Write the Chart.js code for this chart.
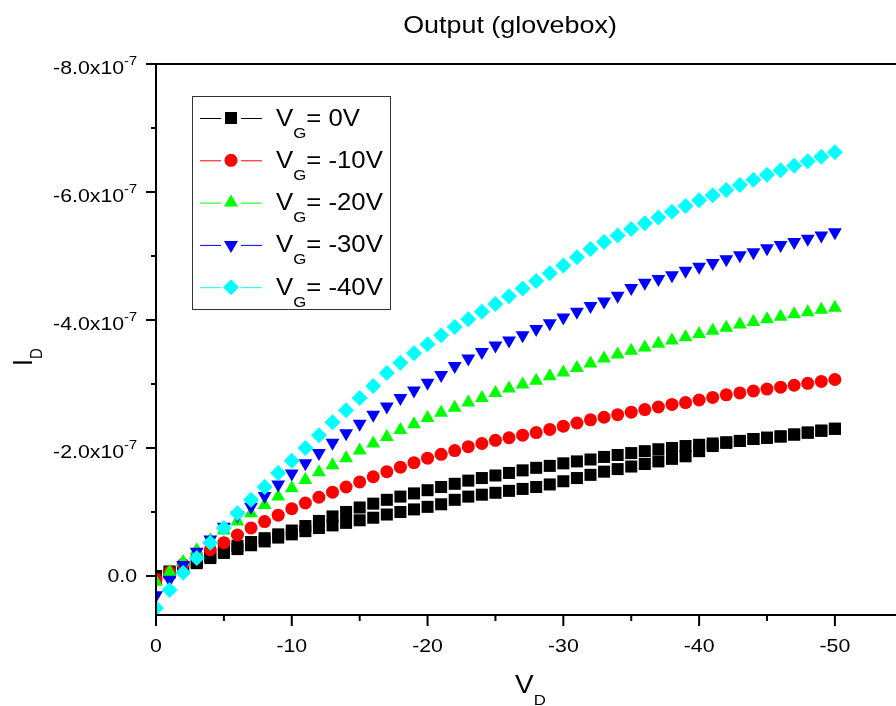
<!DOCTYPE html>
<html>
<head>
<meta charset="UTF-8">
<title>Output (glovebox)</title>
<script src="https://cdn.jsdelivr.net/npm/chart.js"></script>
<style>
  body { margin: 0; background: #fff; }
  #wrap { width: 896px; height: 706px; }
</style>
</head>
<body>
<div id="wrap"><canvas id="chart" width="896" height="706"></canvas></div>
<script>
// drain voltage, V
const vd = [0, -1, -2, -3, -4, -5, -6, -7, -8, -9, -10, -11, -12, -13, -14, -15, -16, -17, -18, -19, -20,
  -21, -22, -23, -24, -25, -26, -27, -28, -29, -30, -31, -32, -33, -34, -35, -36, -37, -38, -39, -40,
  -41, -42, -43, -44, -45, -46, -47, -48, -49, -50];

// -I_D in units of 1e-7 A
const idVg0Fwd = [0.00, 0.07, 0.14, 0.22, 0.31, 0.40, 0.47, 0.53, 0.59, 0.65, 0.71, 0.78, 0.86, 0.93, 1.00, 1.07, 1.13, 1.19, 1.24, 1.29, 1.34,
  1.39, 1.44, 1.49, 1.53, 1.57, 1.61, 1.65, 1.69, 1.72, 1.76, 1.79, 1.82, 1.86, 1.89, 1.92, 1.95, 1.98, 2.00, 2.03, 2.05,
  2.07, 2.09, 2.11, 2.14, 2.16, 2.18, 2.21, 2.24, 2.27, 2.30];
const idVg0Rev = [-0.03, 0.05, 0.12, 0.20, 0.28, 0.36, 0.42, 0.48, 0.54, 0.60, 0.65, 0.70, 0.75, 0.79, 0.83, 0.87, 0.91, 0.96, 1.00, 1.04, 1.08,
  1.12, 1.19, 1.24, 1.27, 1.30, 1.33, 1.36, 1.39, 1.43, 1.48, 1.53, 1.58, 1.63, 1.67, 1.71, 1.75, 1.79, 1.83, 1.87, 1.95,
  2.03, 2.08, 2.11, 2.14, 2.16, 2.18, 2.21, 2.24, 2.27, 2.30];
const idVg10 = [-0.05, 0.06, 0.18, 0.30, 0.41, 0.52, 0.64, 0.75, 0.85, 0.95, 1.05, 1.14, 1.23, 1.31, 1.39, 1.47, 1.55, 1.63, 1.70, 1.77, 1.84,
  1.90, 1.96, 2.02, 2.07, 2.12, 2.16, 2.20, 2.24, 2.29, 2.34, 2.39, 2.44, 2.48, 2.52, 2.56, 2.60, 2.64, 2.68, 2.71, 2.75,
  2.79, 2.83, 2.86, 2.89, 2.92, 2.95, 2.98, 3.01, 3.04, 3.07];
const idVg20 = [-0.09, 0.06, 0.22, 0.40, 0.56, 0.71, 0.85, 0.98, 1.11, 1.24, 1.37, 1.50, 1.62, 1.73, 1.84, 1.96, 2.07, 2.17, 2.28, 2.37, 2.47,
  2.55, 2.63, 2.71, 2.78, 2.86, 2.93, 2.99, 3.05, 3.12, 3.18, 3.25, 3.32, 3.40, 3.46, 3.52, 3.57, 3.63, 3.68, 3.73, 3.78,
  3.83, 3.88, 3.93, 3.97, 4.01, 4.05, 4.09, 4.12, 4.16, 4.19];
const idVg30 = [-0.30, -0.06, 0.17, 0.38, 0.57, 0.77, 0.95, 1.08, 1.25, 1.43, 1.60, 1.76, 1.92, 2.08, 2.23, 2.38, 2.52, 2.65, 2.78, 2.90, 3.02,
  3.14, 3.28, 3.40, 3.50, 3.60, 3.68, 3.76, 3.86, 3.95, 4.04, 4.13, 4.22, 4.29, 4.38, 4.50, 4.58, 4.64, 4.70, 4.77, 4.83,
  4.89, 4.95, 5.01, 5.06, 5.12, 5.17, 5.22, 5.27, 5.32, 5.37];
const idVg40 = [-0.50, -0.22, 0.05, 0.28, 0.52, 0.75, 0.98, 1.19, 1.39, 1.61, 1.80, 2.00, 2.20, 2.40, 2.59, 2.78, 2.97, 3.17, 3.33, 3.48, 3.62,
  3.76, 3.89, 4.01, 4.13, 4.25, 4.37, 4.49, 4.61, 4.73, 4.85, 4.98, 5.11, 5.22, 5.32, 5.42, 5.51, 5.60, 5.69, 5.78, 5.87,
  5.95, 6.03, 6.11, 6.19, 6.27, 6.34, 6.41, 6.48, 6.55, 6.62];

const seriesNames = ['0V', '-10V', '-20V', '-30V', '-40V'];
const seriesColors = ['#000000', '#ff0000', '#00ff00', '#0000ff', '#00ffff'];
const seriesShapes = ['rect', 'circle', 'triangle', 'triangleDown', 'rectRot'];

const xMajor = [0, -10, -20, -30, -40, -50];
const xMinor = [-5, -15, -25, -35, -45];
const yMajor = [-8, -6, -4, -2, 0];          // x1e-7
const yMinor = [-7, -5, -3, -1];
const yLabels = ['-8.0x10', '-6.0x10', '-4.0x10', '-2.0x10', '0.0'];

const UNIT = 1e-7;
const SX = 1.12;   // text in the reference is a little wide
const FONT = '"Liberation Sans", Arial, sans-serif';

function pts(arr) {
  return vd.map((v, i) => ({ x: v, y: -arr[i] * UNIT }));
}

function makeSet(i, data) {
  const shape = seriesShapes[i];
  const sizes = { rect: 8.5, circle: 6.5, triangle: 8, triangleDown: 8, rectRot: 8 };
  return {
    label: 'VG= ' + seriesNames[i],
    data: data,
    showLine: false,
    pointStyle: shape === 'triangleDown' ? 'triangle' : shape,
    rotation: shape === 'triangleDown' ? 180 : 0,
    pointRadius: sizes[shape],
    pointHoverRadius: sizes[shape],
    backgroundColor: seriesColors[i],
    borderColor: seriesColors[i],
    borderWidth: 0,
    clip: 0,
    order: 10 - i
  };
}

function txt(ctx, s, x, y, size, align) {
  ctx.save();
  ctx.font = size + 'px ' + FONT;
  ctx.translate(x, y);
  ctx.scale(SX, 1);
  ctx.textAlign = align || 'left';
  ctx.textBaseline = 'alphabetic';
  ctx.fillText(s, 0, 0);
  ctx.restore();
}
function txtW(ctx, s, size) {
  ctx.save();
  ctx.font = size + 'px ' + FONT;
  const w = ctx.measureText(s).width * SX;
  ctx.restore();
  return w;
}

function marker(ctx, shape, x, y, color) {
  ctx.save();
  ctx.fillStyle = color;
  ctx.beginPath();
  if (shape === 'rect') {
    ctx.rect(x - 6, y - 6, 12, 12);
  } else if (shape === 'circle') {
    ctx.arc(x, y, 6.5, 0, Math.PI * 2);
  } else if (shape === 'triangle') {
    ctx.moveTo(x, y - 8); ctx.lineTo(x + 7, y + 4); ctx.lineTo(x - 7, y + 4);
  } else if (shape === 'triangleDown') {
    ctx.moveTo(x, y + 8); ctx.lineTo(x + 7, y - 4); ctx.lineTo(x - 7, y - 4);
  } else {
    ctx.moveTo(x, y - 8); ctx.lineTo(x + 8, y); ctx.lineTo(x, y + 8); ctx.lineTo(x - 8, y);
  }
  ctx.closePath();
  ctx.fill();
  ctx.restore();
}

const decor = {
  id: 'decor',
  afterDraw(chart) {
    const ctx = chart.ctx;
    const a = chart.chartArea;
    const xs = chart.scales.x, ys = chart.scales.y;
    ctx.save();
    ctx.fillStyle = '#000';
    ctx.strokeStyle = '#000';
    ctx.lineWidth = 2;

    // frame: top, bottom, left
    ctx.beginPath();
    ctx.moveTo(a.left, a.top); ctx.lineTo(a.right, a.top);
    ctx.moveTo(a.left, a.bottom); ctx.lineTo(a.right, a.bottom);
    ctx.moveTo(a.left, a.top - 1); ctx.lineTo(a.left, a.bottom + 1);
    ctx.stroke();

    // y ticks
    ctx.beginPath();
    yMajor.forEach(v => { const p = ys.getPixelForValue(v * UNIT); ctx.moveTo(a.left - 10, p); ctx.lineTo(a.left, p); });
    yMinor.forEach(v => { const p = ys.getPixelForValue(v * UNIT); ctx.moveTo(a.left - 5, p); ctx.lineTo(a.left, p); });
    // x ticks
    xMajor.forEach(v => { const p = xs.getPixelForValue(v); ctx.moveTo(p, a.bottom); ctx.lineTo(p, a.bottom + 11); });
    xMinor.forEach(v => { const p = xs.getPixelForValue(v); ctx.moveTo(p, a.bottom); ctx.lineTo(p, a.bottom + 6); });
    ctx.stroke();

    // y tick labels
    yMajor.forEach((v, i) => {
      const p = ys.getPixelForValue(v * UNIT);
      if (v === 0) {
        txt(ctx, yLabels[i], 137, p + 6, 19, 'right');
      } else {
        txt(ctx, '-7', 137, p + 1, 13, 'right');
        const w = txtW(ctx, '-7', 13);
        txt(ctx, yLabels[i], 137 - w, p + 10, 19, 'right');
      }
    });
    // x tick labels
    xMajor.forEach(v => {
      const p = xs.getPixelForValue(v);
      txt(ctx, String(v), p, a.bottom + 37, 19, 'center');
    });

    // title
    txt(ctx, 'Output (glovebox)', 510, 33, 24, 'center');

    // x axis title V_D
    txt(ctx, 'V', 515, 693, 25, 'left');
    txt(ctx, 'D', 515 + txtW(ctx, 'V', 25), 705, 15, 'left');

    // y axis title I_D (rotated)
    ctx.save();
    ctx.translate(32, 366);
    ctx.scale(SX, 1);
    ctx.rotate(-Math.PI / 2);
    ctx.font = '25px ' + FONT;
    ctx.fillText('I', 0, 0);
    const wI = ctx.measureText('I').width;
    ctx.font = '15px ' + FONT;
    ctx.fillText('D', wI, 9);
    ctx.restore();

    // legend
    ctx.lineWidth = 1;
    ctx.strokeStyle = '#333';
    ctx.fillStyle = '#fff';
    ctx.fillRect(192, 96, 198, 213);
    ctx.strokeRect(192.5, 96.5, 198, 213);
    seriesNames.forEach((name, i) => {
      const y = 118 + i * 42.3;
      ctx.strokeStyle = seriesColors[i];
      ctx.beginPath();
      ctx.moveTo(200, y + 0.5); ctx.lineTo(221, y + 0.5);
      ctx.moveTo(241, y + 0.5); ctx.lineTo(262, y + 0.5);
      ctx.stroke();
      marker(ctx, seriesShapes[i], 231, y, seriesColors[i]);
      ctx.fillStyle = '#000';
      let x = 276;
      txt(ctx, 'V', x, y + 7.5, 23, 'left');
      x += txtW(ctx, 'V', 23);
      txt(ctx, 'G', x, y + 19.5, 15, 'left');
      x += txtW(ctx, 'G', 15);
      txt(ctx, '= ' + name, x, y + 7.5, 23, 'left');
    });
    ctx.restore();
  }
};

new Chart(document.getElementById('chart'), {
  type: 'scatter',
  data: {
    datasets: [
      makeSet(0, pts(idVg0Fwd).concat(pts(idVg0Rev).reverse())),
      makeSet(1, pts(idVg10)),
      makeSet(2, pts(idVg20)),
      makeSet(3, pts(idVg30)),
      makeSet(4, pts(idVg40))
    ]
  },
  options: {
    responsive: false,
    animation: false,
    events: [],
    layout: { autoPadding: false, padding: { top: 64, left: 0, right: 0, bottom: 0 } },
    plugins: { legend: { display: false }, title: { display: false }, tooltip: { enabled: false } },
    scales: {
      x: {
        type: 'linear', min: -54.5, max: 0, reverse: true,
        grid: { display: false }, border: { display: false }, ticks: { display: false },
        afterFit(s) { s.height = 91; }
      },
      y: {
        type: 'linear', min: -8 * UNIT, max: 0.61 * UNIT, reverse: true,
        grid: { display: false }, border: { display: false }, ticks: { display: false },
        afterFit(s) { s.width = 156; }
      }
    }
  },
  plugins: [decor]
});
</script>
</body>
</html>
